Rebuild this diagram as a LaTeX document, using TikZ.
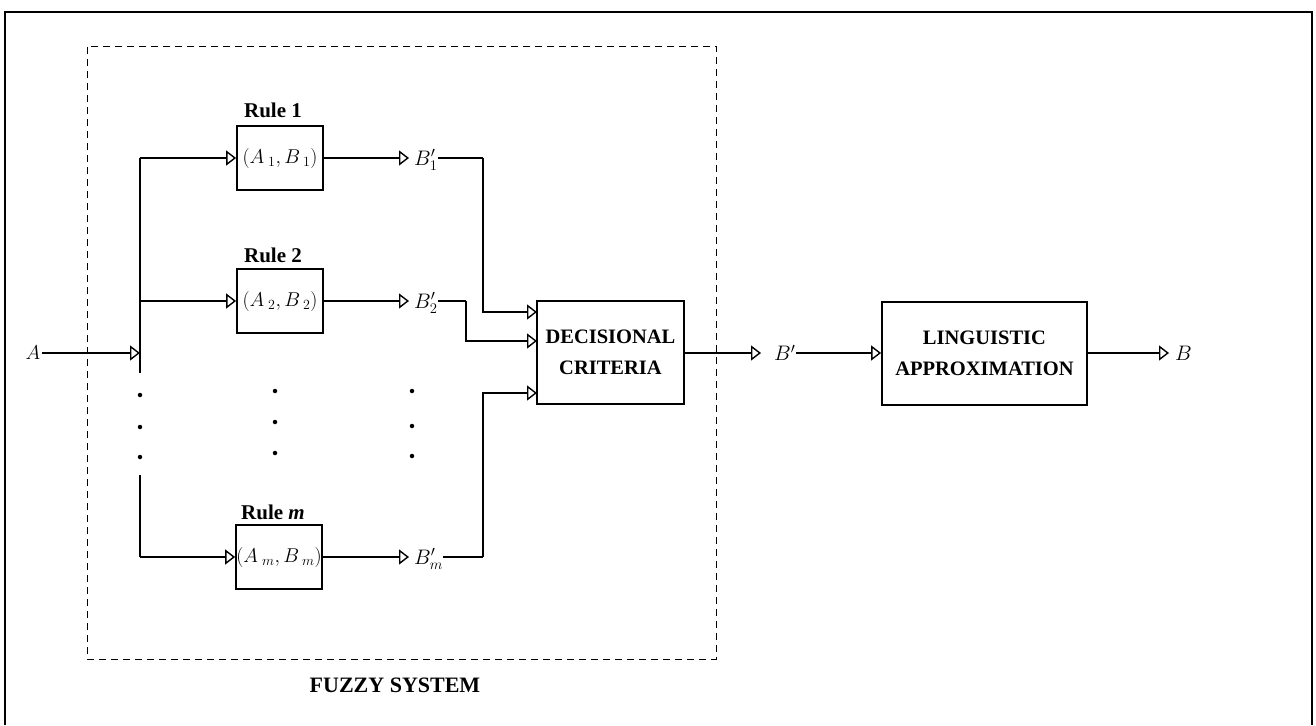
\documentclass[tikz,border=0pt]{standalone}
\usepackage{fix-cm}
\usepackage{fontspec}
\setmainfont{Liberation Serif}
\usetikzlibrary{arrows.meta}
\begin{document}
\begin{tikzpicture}[x=1pt,y=-1pt,
  conn/.style={line width=1.1pt},
  arr/.style={conn,-{Triangle[open,length=10pt,width=15pt,line width=1.4pt]}},
  blk/.style={draw,line width=1.8pt,rectangle,inner sep=0pt},
  rulebox/.style={blk,minimum width=86pt,minimum height=64pt,font=\fontsize{20}{22}\selectfont},
  bigbox/.style={blk,align=center,font=\fontsize{20.5}{31}\selectfont\bfseries},
  rlabel/.style={font=\fontsize{21}{24}\selectfont\bfseries},
  sig/.style={anchor=west,inner sep=0pt,font=\fontsize{21}{23}\selectfont},
  dotn/.style={circle,fill,inner sep=0pt,minimum size=4.5pt}
]
\useasboundingbox (0,0) rectangle (1316,725);
% outer frame (open at the bottom)
\draw[line width=2pt] (5,725) -- (5,12) -- (1312,12) -- (1312,725);
% fuzzy system dashed frame
\node[draw,dashed,line width=0.9pt,dash pattern=on 7pt off 5pt,minimum width=629pt,minimum height=613pt,inner sep=0pt] (fs) at (401.5,352.5) {};
\node[rlabel,font=\fontsize{22}{24}\selectfont\bfseries] (fsl) at (395,685) {FUZZY SYSTEM};

% rule boxes
\node[rulebox] (r1) at (280,158) {$(A_{\;1},B_{\;1})$};
\node[rulebox] (r2) at (280,301) {$(A_{\;2},B_{\;2})$};
\node[rulebox] (rm) at (279,557) {$(A_{\;m},B_{\;m})$};
\node[rlabel] (l1) at (273,110) {Rule 1};
\node[rlabel] (l2) at (273,255) {Rule 2};
\node[rlabel] (lm) at (273,512) {Rule \textit{m}};

% input A and bus
\node[font=\fontsize{20}{22}\selectfont,inner sep=1pt] (A) at (33,353) {$A$};
\coordinate (bA) at (140,353);
\coordinate (bt) at (140,158);
\coordinate (b2) at (140,301);
\coordinate (bu) at (140,373);
\coordinate (bl) at (140,475);
\coordinate (bb) at (140,557);
\draw[arr] (A.east) -- (bA);
\draw[conn] (bt) -- (bu);
\draw[conn] (bl) -- (bb);
\draw[arr] (bt) -- (r1.west);
\draw[arr] (b2) -- (r2.west);
\draw[arr] (bb) -- (rm.west);

% dots
\foreach \i/\x/\y in {1/140/395,2/140/427,3/140/457,4/275/391,5/275/422,6/275/453,7/412/391,8/412/426,9/412/456}
  \node[dotn] (d\i) at (\x,\y) {};

% rule outputs
\node[sig] (o1) at (409,160) {\hspace{5pt}$B'_1$};
\node[sig] (o2) at (409,303) {\hspace{5pt}$B'_2$};
\node[sig] (om) at (409,559) {\hspace{5pt}$B'_m$};
\draw[arr] (r1.east) -- (o1.west |- r1.east);
\draw[arr] (r2.east) -- (o2.west |- r2.east);
\draw[arr] (rm.east) -- (om.west |- rm.east);

% decisional criteria
\node[bigbox,minimum width=147pt,minimum height=103pt] (dc) at (610.5,352.5) {DECISIONAL\\CRITERIA};
\coordinate (j1) at (483,158);
\coordinate (j2) at (466,301);
\coordinate (jm) at (483,557);
\coordinate (i1) at (537,312);
\coordinate (i2) at (537,341);
\coordinate (im) at (537,393);
\draw[conn] (o1.east |- j1) -- (j1);
\draw[arr] (j1) |- (i1);
\draw[conn] (o2.east |- j2) -- (j2);
\draw[arr] (j2) |- (i2);
\draw[conn] (om.east |- jm) -- (jm);
\draw[arr] (jm) |- (im);

% B' and linguistic approximation
\node[sig] (bp) at (761,353) {\hspace{13pt}$B'$\hspace{6pt}};
\node[bigbox,minimum width=205pt,minimum height=103pt] (la) at (984.5,353.5) {LINGUISTIC\\APPROXIMATION};
\draw[arr] (dc.east |- bp.west) -- (bp.west);
\draw[arr] (bp.east) -- (la.west |- bp.east);
\node[sig] (B) at (1169,353) {\hspace{6pt}$B$};
\draw[arr] (la.east |- B.west) -- (B.west);
\end{tikzpicture}
\end{document}
